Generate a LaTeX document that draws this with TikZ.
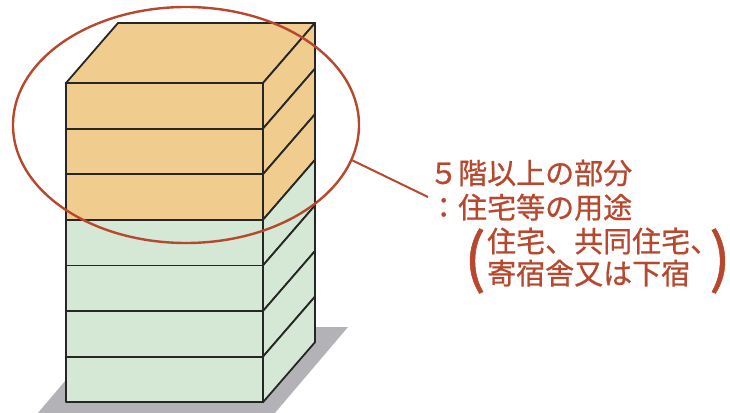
\documentclass[tikz,border=0pt]{standalone}
\usepackage{fontspec}
\newfontfamily\jpfont[BoldFont={Noto Sans CJK JP},BoldFeatures={FakeBold=0.8}]{Noto Sans CJK JP}
\usetikzlibrary{positioning,shapes.geometric}
\definecolor{upperfill}{RGB}{240,204,142}
\definecolor{lowerfill}{RGB}{212,232,213}
\definecolor{groundshade}{RGB}{178,178,183}
\definecolor{markred}{RGB}{183,72,46}
\tikzset{
    floorface/.style={
        draw=black!85,line width=1.8pt,line join=round
    },
    ring/.style={
        ellipse,draw=markred,line width=2.4pt,minimum width=346pt,minimum height=236pt,inner sep=0pt
    },
    leader/.style={
        draw=markred,line width=2pt
    },
    note/.style={
        text=markred,font=\jpfont\bfseries\fontsize{29}{29}\selectfont,inner sep=0pt
    },
    paren/.style={
        text=markred,font=\jpfont\bfseries\fontsize{64}{64}\selectfont,inner sep=0pt
    }
}

\begin{document}
\begin{tikzpicture}[x=1pt,y=-1pt]
\useasboundingbox (0,0) rectangle (730,412);
\begin{scope}
\clip (0,0) rectangle (730,412);
\fill[groundshade] (111,327) -- (348,327) -- (263,427) -- (26,427) -- cycle;
\end{scope}
\draw[floorface,fill=upperfill] (66,83) -- (118,23) -- (315,23) -- (263,83) -- cycle;
\foreach \i in {0,1,2} {
    \pgfmathsetmacro\yt{83+45.6*\i}
    \pgfmathsetmacro\yb{83+45.6*(\i+1)}
    \draw[floorface,fill=upperfill] (66,\yt) rectangle (263,\yb);
    \draw[floorface,fill=upperfill] (263,\yt) -- ++(52,-60) -- ++(0,45.6) -- (263,\yb) -- cycle;
}
\foreach \i in {3,...,6} {
    \pgfmathsetmacro\yt{83+45.6*\i}
    \pgfmathsetmacro\yb{83+45.6*(\i+1)}
    \draw[floorface,fill=lowerfill] (66,\yt) rectangle (263,\yb);
    \draw[floorface,fill=lowerfill] (263,\yt) -- ++(52,-60) -- ++(0,45.6) -- (263,\yb) -- cycle;
}
\node[ring] (upper) at (186,125) {};
\node[note,anchor=west] (l1) at (429,173) {５階以上の部分};
\node[note,below=7pt of l1.south west,anchor=north west] (l2) {：住宅等の用途};
\node[note,anchor=west] (l3) at (487,241) {住宅、共同住宅、\kern-15pt};
\node[note,below=5pt of l3.south west,anchor=north west] (l4) {寄宿舎又は下宿};
\node[paren] (lpar) at (475,261) {(};
\node[paren] (rpar) at (720,261) {)};
\coordinate (lead) at (428,197);
\draw[leader] (upper.-12.5) -- (lead);
\end{tikzpicture}
\end{document}
